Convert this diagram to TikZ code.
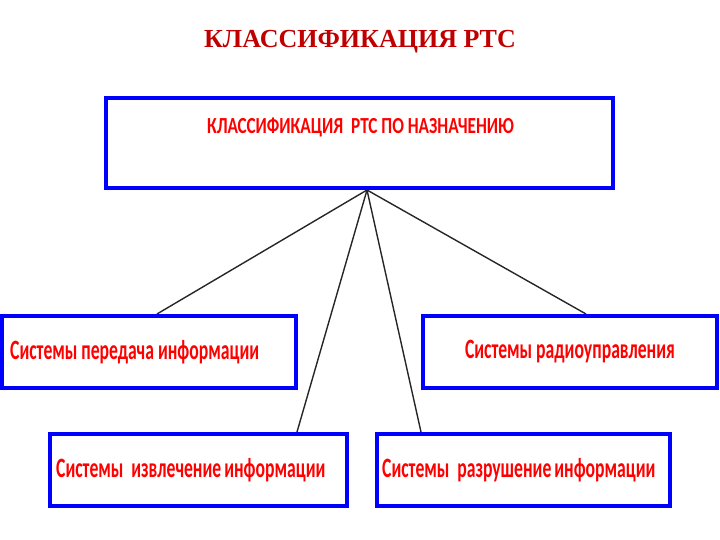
\documentclass[tikz,border=0pt]{standalone}
\usepackage{fontspec}
\setmainfont{Liberation Serif}
\newfontfamily\boxfont[FakeStretch=0.63]{Carlito}
\newfontfamily\headfont[FakeStretch=0.75]{Carlito}
\definecolor{titlered}{RGB}{192,0,0}
\definecolor{boxblue}{RGB}{0,0,255}
\begin{document}
\begin{tikzpicture}[x=1pt,y=-1pt,
    sysbox/.style={draw=boxblue, line width=4pt, fill=white, inner sep=0pt,
      minimum height=72pt},
    systext/.style={text=red, inner sep=0pt, font=\boxfont\bfseries\fontsize{28}{30}\selectfont},
    link/.style={draw=black!85, line width=1.4pt}]
    \useasboundingbox (0,0) rectangle (720,540);
    \node[font=\bfseries\fontsize{26}{28}\selectfont, text=titlered] (title) at (360,42) {КЛАССИФИКАЦИЯ РТС};
    \node[sysbox, minimum width=507pt, minimum height=90pt] (main) at (359.5,143) {};
    \node[text=red, font=\headfont\bfseries\fontsize{23}{25}\selectfont] (maintext) at (360.5,127) {КЛАССИФИКАЦИЯ \ РТС ПО НАЗНАЧЕНИЮ};
    \node[sysbox, minimum width=294pt] (transfer) at (149,352) {};
    \node[sysbox, minimum width=294pt] (control) at (570,352) {};
    \node[sysbox, minimum width=297pt] (extract) at (198.5,470) {};
    \node[sysbox, minimum width=293pt] (destroy) at (523.5,470) {};
    \node[systext, anchor=west] (transfertext) at ([xshift=10pt]transfer.west) {Системы передача информации};
    \node[systext] (controltext) at (control) {Системы радиоуправления};
    \node[systext, anchor=west] (extracttext) at ([xshift=8pt]extract.west) {Системы \ извлечение\kern-1pt\ информации};
    \node[systext, anchor=west] (destroytext) at ([xshift=7pt]destroy.west) {Системы \ разрушение\kern-1pt\ информации};
    \coordinate (hub) at ([xshift=7.5pt]main.south);
    \draw[link] (hub) -- ([xshift=8pt]transfer.north);
    \draw[link] (hub) -- ([xshift=-52pt]extract.north east);
    \draw[link] (hub) -- ([xshift=46pt]destroy.north west);
    \draw[link] (hub) -- ([xshift=16pt]control.north);
\end{tikzpicture}
\end{document}
